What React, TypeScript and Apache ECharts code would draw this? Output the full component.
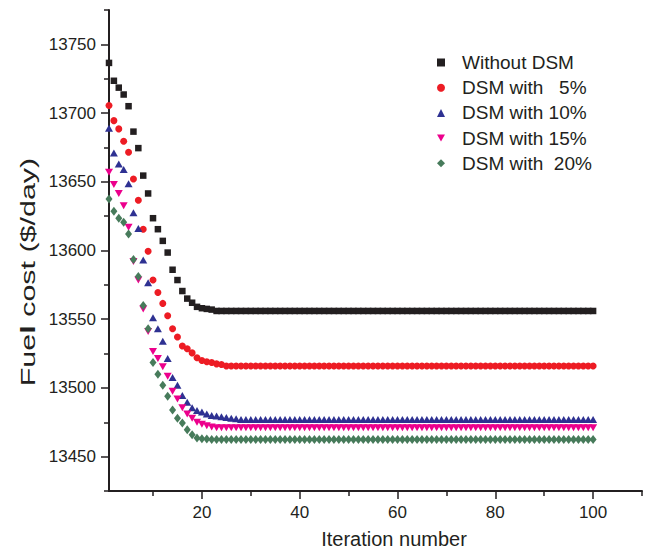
import React, { useEffect, useRef } from "react";
import * as echarts from "echarts";

const SERIES_NAMES = ["Without DSM", "DSM with   5%", "DSM with 10%", "DSM with 15%", "DSM with  20%"];

const withoutDSM = [
  13736.5, 13723.5, 13718.5, 13713.5, 13705, 13686.5, 13674.5, 13654.5, 13641.5, 13623.5,
  13615.5, 13607, 13598.5, 13586, 13578.5, 13570.5, 13565, 13562, 13559, 13558,
  13557.5, 13557, 13556, 13556, 13556, 13556, 13556, 13556, 13556, 13556,
  13556, 13556, 13556, 13556, 13556, 13556, 13556, 13556, 13556, 13556,
  13556, 13556, 13556, 13556, 13556, 13556, 13556, 13556, 13556, 13556,
  13556, 13556, 13556, 13556, 13556, 13556, 13556, 13556, 13556, 13556,
  13556, 13556, 13556, 13556, 13556, 13556, 13556, 13556, 13556, 13556,
  13556, 13556, 13556, 13556, 13556, 13556, 13556, 13556, 13556, 13556,
  13556, 13556, 13556, 13556, 13556, 13556, 13556, 13556, 13556, 13556,
  13556, 13556, 13556, 13556, 13556, 13556, 13556, 13556, 13556, 13556,
];

const dsm5 = [
  13705.5, 13694.5, 13688.5, 13679.5, 13671.5, 13652, 13636.5, 13615.5, 13599.5, 13578.5,
  13569.5, 13561.5, 13552.5, 13543, 13537, 13530.5, 13528.5, 13525.5, 13522, 13520,
  13519, 13518.5, 13517.5, 13517, 13516, 13516, 13516, 13516, 13516, 13516,
  13516, 13516, 13516, 13516, 13516, 13516, 13516, 13516, 13516, 13516,
  13516, 13516, 13516, 13516, 13516, 13516, 13516, 13516, 13516, 13516,
  13516, 13516, 13516, 13516, 13516, 13516, 13516, 13516, 13516, 13516,
  13516, 13516, 13516, 13516, 13516, 13516, 13516, 13516, 13516, 13516,
  13516, 13516, 13516, 13516, 13516, 13516, 13516, 13516, 13516, 13516,
  13516, 13516, 13516, 13516, 13516, 13516, 13516, 13516, 13516, 13516,
  13516, 13516, 13516, 13516, 13516, 13516, 13516, 13516, 13516, 13516,
];

const dsm10 = [
  13689, 13671, 13663, 13659, 13648.5, 13627.5, 13616, 13593, 13576.5, 13551,
  13543, 13534, 13521.5, 13507.5, 13502, 13494.5, 13489.5, 13485.5, 13483.5, 13482.5,
  13481, 13480, 13479.5, 13479, 13478.5, 13478, 13477.5, 13477, 13477, 13477,
  13477, 13477, 13477, 13477, 13477, 13477, 13477, 13477, 13477, 13477,
  13477, 13477, 13477, 13477, 13477, 13477, 13477, 13477, 13477, 13477,
  13477, 13477, 13477, 13477, 13477, 13477, 13477, 13477, 13477, 13477,
  13477, 13477, 13477, 13477, 13477, 13477, 13477, 13477, 13477, 13477,
  13477, 13477, 13477, 13477, 13477, 13477, 13477, 13477, 13477, 13477,
  13477, 13477, 13477, 13477, 13477, 13477, 13477, 13477, 13477, 13477,
  13477, 13477, 13477, 13477, 13477, 13477, 13477, 13477, 13477, 13477,
];

const dsm15 = [
  13657, 13648, 13641.5, 13632.5, 13617, 13592, 13578.5, 13557.5, 13541, 13526.5,
  13521.5, 13515.5, 13508.5, 13497.5, 13492, 13485.5, 13481, 13478, 13475, 13473.5,
  13472.5, 13471.5, 13471, 13471, 13471, 13471, 13471, 13471, 13471, 13471,
  13471, 13471, 13471, 13471, 13471, 13471, 13471, 13471, 13471, 13471,
  13471, 13471, 13471, 13471, 13471, 13471, 13471, 13471, 13471, 13471,
  13471, 13471, 13471, 13471, 13471, 13471, 13471, 13471, 13471, 13471,
  13471, 13471, 13471, 13471, 13471, 13471, 13471, 13471, 13471, 13471,
  13471, 13471, 13471, 13471, 13471, 13471, 13471, 13471, 13471, 13471,
  13471, 13471, 13471, 13471, 13471, 13471, 13471, 13471, 13471, 13471,
  13471, 13471, 13471, 13471, 13471, 13471, 13471, 13471, 13471, 13471,
];

const dsm20 = [
  13637.5, 13628.5, 13623.5, 13620.5, 13612, 13593.5, 13581, 13560, 13543, 13518.5,
  13510, 13502, 13494, 13484, 13478, 13474.5, 13469.5, 13466, 13463.5, 13463,
  13462.8, 13462.5, 13462.5, 13462.5, 13462.5, 13462.5, 13462.5, 13462.5, 13462.5, 13462.5,
  13462.5, 13462.5, 13462.5, 13462.5, 13462.5, 13462.5, 13462.5, 13462.5, 13462.5, 13462.5,
  13462.5, 13462.5, 13462.5, 13462.5, 13462.5, 13462.5, 13462.5, 13462.5, 13462.5, 13462.5,
  13462.5, 13462.5, 13462.5, 13462.5, 13462.5, 13462.5, 13462.5, 13462.5, 13462.5, 13462.5,
  13462.5, 13462.5, 13462.5, 13462.5, 13462.5, 13462.5, 13462.5, 13462.5, 13462.5, 13462.5,
  13462.5, 13462.5, 13462.5, 13462.5, 13462.5, 13462.5, 13462.5, 13462.5, 13462.5, 13462.5,
  13462.5, 13462.5, 13462.5, 13462.5, 13462.5, 13462.5, 13462.5, 13462.5, 13462.5, 13462.5,
  13462.5, 13462.5, 13462.5, 13462.5, 13462.5, 13462.5, 13462.5, 13462.5, 13462.5, 13462.5,
];

const X_LABEL_TICKS = [20, 40, 60, 80, 100];
const X_MINOR_TICKS = [10, 30, 50, 70, 90, 110];
const Y_LABEL_TICKS = [13450, 13500, 13550, 13600, 13650, 13700, 13750];
const Y_MINOR_TICKS = [13425, 13475, 13525, 13575, 13625, 13675, 13725, 13775];

const FONT = "'Liberation Sans', Arial, Helvetica, sans-serif";
const INK = "#231f20";
const COLORS = ["#231f20", "#ed1c24", "#2e3192", "#ec008c", "#477b5b"];
const SYMBOLS = ["rect", "circle", "triangle", "triangle", "diamond"];
const LEGEND_ICONS = ["rect", "circle", "triangle", "path://M0,0L8,0L4,7Z", "diamond"];
const SYMBOL_SIZES: any[] = [6.5, 7, [8, 7], [8, 7], [7, 9]];
const ROTATES = [0, 0, 0, 180, 0];

export default function App() {
  const ref = useRef<HTMLDivElement>(null);
  useEffect(() => {
    if (!ref.current) return;
    document.body.style.margin = "0";
    const chart = echarts.init(ref.current, null, { renderer: "svg" });
    const allData = [withoutDSM, dsm5, dsm10, dsm15, dsm20];
    const series = allData.map((vals, k) => ({
      name: SERIES_NAMES[k],
      type: "scatter",
      xAxisIndex: 0,
      yAxisIndex: 0,
      symbol: SYMBOLS[k],
      symbolSize: SYMBOL_SIZES[k],
      symbolRotate: ROTATES[k],
      itemStyle: { color: COLORS[k], opacity: 1 },
      data: vals.map((v, i) => [i + 1, v]),
    }));
    const tickStyle = { color: INK, width: 1.5 };
    const fmt = (v: number) => String(v);
    chart.setOption({
      animation: false,
      backgroundColor: "#ffffff",
      grid: { left: 109, right: 6, top: 10, bottom: 60 },
      xAxis: [
        {
          type: "value", min: 1, max: 110, position: "bottom",
          axisLine: { show: true, onZero: false, lineStyle: { color: INK, width: 2 } },
          axisTick: { show: true, customValues: X_LABEL_TICKS, length: 8, lineStyle: tickStyle },
          axisLabel: { customValues: X_LABEL_TICKS, formatter: fmt, margin: 13, fontSize: 17, color: INK, fontFamily: FONT },
          splitLine: { show: false },
        },
        {
          type: "value", min: 1, max: 110, position: "bottom",
          axisLine: { show: false },
          axisTick: { show: true, customValues: X_MINOR_TICKS, length: 5, lineStyle: tickStyle },
          axisLabel: { show: false },
          splitLine: { show: false },
        },
      ],
      yAxis: [
        {
          type: "value", min: 13425, max: 13775, position: "left",
          axisLine: { show: true, onZero: false, lineStyle: { color: INK, width: 2 } },
          axisTick: { show: true, customValues: Y_LABEL_TICKS, length: 8, lineStyle: tickStyle },
          axisLabel: { customValues: Y_LABEL_TICKS, formatter: fmt, margin: 13, fontSize: 17, color: INK, fontFamily: FONT },
          splitLine: { show: false },
        },
        {
          type: "value", min: 13425, max: 13775, position: "left",
          axisLine: { show: false },
          axisTick: { show: true, customValues: Y_MINOR_TICKS, length: 5, lineStyle: tickStyle },
          axisLabel: { show: false },
          splitLine: { show: false },
        },
      ],
      legend: {
        orient: "vertical",
        left: 432,
        top: 48,
        itemWidth: 8,
        itemHeight: 8,
        itemGap: 6.2,
        data: SERIES_NAMES.map((n, k) => ({
          name: n,
          icon: LEGEND_ICONS[k],
          itemStyle: { color: COLORS[k] },
        })),
        textStyle: { fontSize: 19, color: INK, fontFamily: FONT, padding: [0, 0, 0, 12] },
      },
      graphic: [
        {
          type: "text",
          x: 28,
          y: 272,
          rotation: Math.PI / 2,
          scaleX: 1.45,
          style: {
            text: "Fue{b|l} cost ($/day)",
            fontSize: 21,
            fontFamily: FONT,
            fill: INK,
            align: "center",
            verticalAlign: "middle",
            rich: { b: { fontSize: 21, fontWeight: "bold", fontFamily: FONT, fill: INK } },
          },
        },
        {
          type: "text",
          x: 394,
          y: 539,
          style: {
            text: "Iteration number",
            fontSize: 20,
            fontFamily: FONT,
            fill: INK,
            align: "center",
            verticalAlign: "middle",
          },
        },
      ],
      series,
    });
    return () => chart.dispose();
  }, []);
  return <div ref={ref} style={{ width: 648, height: 551 }} />;
}
